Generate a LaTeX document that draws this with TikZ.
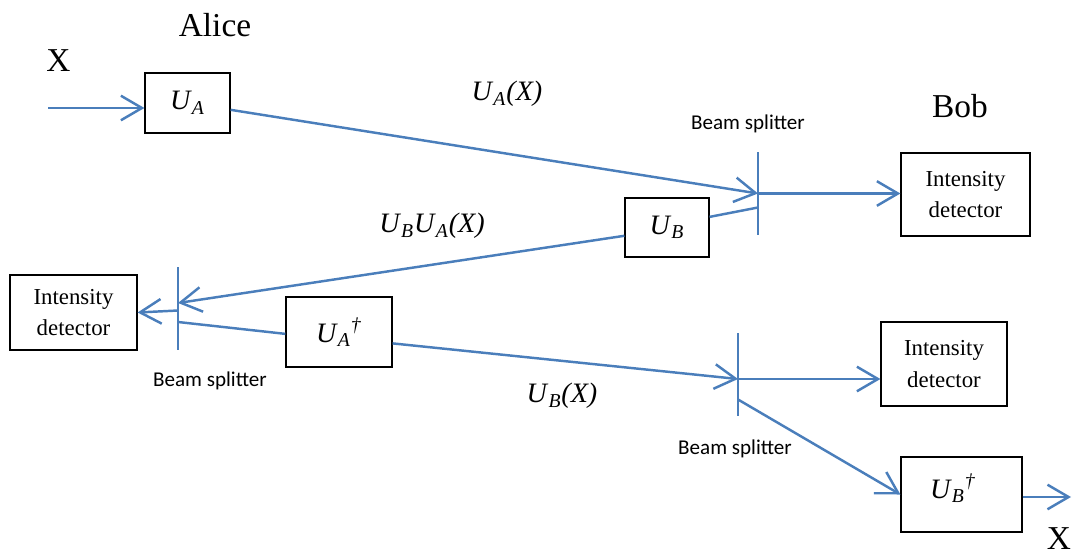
\documentclass[tikz,border=0pt]{standalone}
\usepackage{fontspec}
\setmainfont{Liberation Serif}
\newfontfamily\splitfont{Carlito}
\usepackage{tikz}
\usetikzlibrary{
	arrows.meta,
	calc,
	positioning
}
\definecolor{beam}{RGB}{74,126,187}
\newcommand{\op}[1]{\textit{U}\textsubscript{\textit{#1}}}
\newcommand{\opdag}[1]{\op{#1}\textsuperscript{\textit{\textdagger}}}

\tikzset{
	box/.style = {draw, line width=0.7pt, inner sep=0pt, align=center,
		font=\fontsize{13}{18}\selectfont},
	ray/.style = {draw=beam, line width=1.4pt},
	tip/.style = {-{Straight Barb[length=12pt,width=14pt]}},
	splitter/.style = {draw=beam, line width=1.3pt, inner sep=0pt,
		minimum width=0pt, minimum height=1.66cm},
	name label/.style = {font=\fontsize{19}{22}\selectfont},
	op label/.style = {font=\fontsize{16}{19}\selectfont},
	split label/.style = {font=\splitfont\fontsize{12}{14}\selectfont}
}

\begin{document}
\begin{tikzpicture}[x=0.02cm, y=-0.02cm]

	\useasboundingbox (0,0) rectangle (1075,554);

	% Alice and Bob
	\node[name label] (alice) at (215,25) {Alice};
	\node[name label] (bob) at (960,106) {Bob};
	\node[name label] (xin) at (58.5,61) {X};
	\node[name label, anchor=base, inner sep=0pt] (xout) at (1059,549) {X};

	% operators
	\node[box, minimum width=1.70cm, minimum height=1.20cm, op label] (UA) at (187.5,103) {\op{A}};
	\node[box, minimum width=1.68cm, minimum height=1.18cm, op label] (UB) at (667,227.5) {\op{B}};
	\node[box, minimum width=2.12cm, minimum height=1.40cm, op label] (UAd) at (339,332) {\opdag{A}};
	\node[box, minimum width=2.42cm, minimum height=1.50cm] (UBd) at (961.5,494.5) {};
	\node[op label] (UBdtext) at (953,488) {\opdag{B}};

	% detectors
	\node[box, minimum width=2.58cm, minimum height=1.66cm] (det1) at (965.5,194.5) {Intensity\\detector};
	\node[box, minimum width=2.54cm, minimum height=1.50cm] (det2) at (73.5,312.5) {Intensity\\detector};
	\node[box, minimum width=2.52cm, minimum height=1.68cm] (det3) at (944,364) {Intensity\\detector};

	% beam splitters
	\node[splitter] (BS1) at (758,193.5) {};
	\node[splitter] (BS2) at (178,308.5) {};
	\node[splitter] (BS3) at (738,374.5) {};
	\node[split label] (bs1text) at (748,124) {Beam splitter};
	\node[split label] (bs2text) at (210,381) {Beam splitter};
	\node[split label] (bs3text) at (735,449) {Beam splitter};

	% beam labels
	\node[op label] (l1) at (507,94) {\op{A}\textit{(X)}};
	\node[op label] (l2) at (432,226) {\op{B}\op{A}\textit{(X)}};
	\node[op label] (l3) at (562,396) {\op{B}\textit{(X)}};

	\coordinate (in) at (48,108);
	\coordinate (out) at (1071,497);
	\coordinate (bs1low) at ($(BS1.center)+(0,14)$);
	\coordinate (bs2high) at ($(BS2.center)+(0,-5.5)$);
	\coordinate (bs2mid) at ($(BS2.center)+(0,2)$);
	\coordinate (bs2low) at ($(BS2.center)+(0,13.5)$);
	\coordinate (bs3mid) at ($(BS3.center)+(0,4.5)$);
	\coordinate (bs3low) at ($(BS3.center)+(0,25)$);

	% rays
	\draw[ray, tip] (in) -- (in -| UA.west);
	\draw[ray, tip] (UA.-9) -- (BS1.center);
	\draw[ray, tip] (BS1.center) -- (BS1.center -| det1.west);
	\draw[ray] (UB.14) -- (bs1low);
	\draw[ray, tip] (UB.191) -- (bs2high);
	\draw[ray, tip] (bs2mid) -- (det2.east);
	\draw[ray] (bs2low) -- (UAd.182);
	\draw[ray, tip] (UAd.-12) -- (bs3mid);
	\draw[ray, tip] (bs3mid) -- (bs3mid -| det3.west);
	\draw[ray, tip] (bs3low) -- (UBd.west);
	\draw[ray, tip] (UBd.east |- out) -- (out);

\end{tikzpicture}
\end{document}
